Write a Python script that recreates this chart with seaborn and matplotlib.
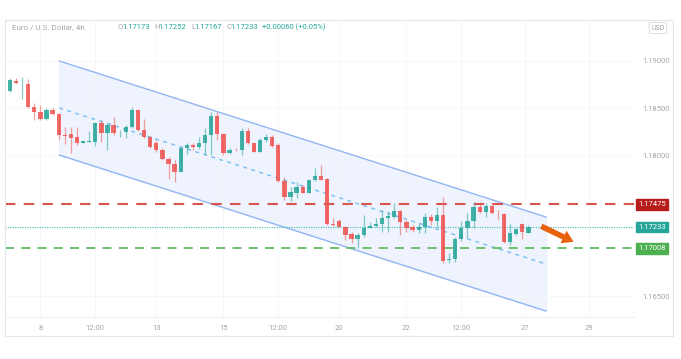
import numpy as np
import pandas as pd
import matplotlib
matplotlib.use("Agg")
import matplotlib.pyplot as plt
from matplotlib import transforms
from matplotlib.patches import Rectangle
import seaborn as sns

# EUR/USD 4h candles
opens = [1.18684, 1.18790, 1.18755, 1.18755, 1.18507, 1.18457, 1.18386, 1.18479, 1.18436, 1.18210,
         1.18220, 1.18191, 1.18128, 1.18141, 1.18141, 1.18337, 1.18231, 1.18316, 1.18235, 1.18241,
         1.18301, 1.18479, 1.18266, 1.18188, 1.18131, 1.18053, 1.17954, 1.17901, 1.17822, 1.18078,
         1.18106, 1.18088, 1.18131, 1.18213, 1.18418, 1.18220, 1.18024, 1.18053, 1.18053, 1.18259,
         1.18124, 1.18035, 1.18160, 1.18195, 1.18106, 1.17727, 1.17553, 1.17599, 1.17656, 1.17599,
         1.17734, 1.17777, 1.17742, 1.17263, 1.17301, 1.17237, 1.17160, 1.17103, 1.17149, 1.17227,
         1.17248, 1.17263, 1.17327, 1.17344, 1.17404, 1.17290, 1.17231, 1.17202, 1.17231, 1.17344,
         1.17301, 1.17362, 1.16883, 1.16894, 1.17103, 1.17220, 1.17298, 1.17450, 1.17390, 1.17461,
         1.17372, 1.17369, 1.17071, 1.17160, 1.17263, 1.17173]
highs = [1.18816, 1.18816, 1.18827, 1.18805, 1.18550, 1.18532, 1.18497, 1.18497, 1.18450, 1.18295,
         1.18301, 1.18295, 1.18160, 1.18255, 1.18354, 1.18372, 1.18344, 1.18401, 1.18266, 1.18319,
         1.18514, 1.18486, 1.18383, 1.18202, 1.18160, 1.18078, 1.17976, 1.17947, 1.18078, 1.18131,
         1.18124, 1.18188, 1.18284, 1.18454, 1.18454, 1.18231, 1.18071, 1.18071, 1.18284, 1.18284,
         1.18131, 1.18178, 1.18223, 1.18213, 1.18131, 1.17769, 1.17656, 1.17716, 1.17681, 1.17745,
         1.17859, 1.17894, 1.17752, 1.17327, 1.17316, 1.17245, 1.17181, 1.17170, 1.17362, 1.17290,
         1.17327, 1.17415, 1.17404, 1.17486, 1.17415, 1.17309, 1.17255, 1.17273, 1.17380, 1.17369,
         1.17450, 1.17556, 1.16954, 1.17131, 1.17298, 1.17380, 1.17503, 1.17503, 1.17486, 1.17486,
         1.17415, 1.17380, 1.17263, 1.17227, 1.17273, 1.17252]
lows = [1.18673, 1.18755, 1.18596, 1.18497, 1.18372, 1.18372, 1.18372, 1.18430, 1.18160, 1.18117,
        1.18018, 1.18106, 1.18124, 1.18135, 1.18096, 1.18135, 1.18053, 1.18213, 1.18195, 1.18184,
        1.18284, 1.18255, 1.18178, 1.18078, 1.18035, 1.17947, 1.17745, 1.17710, 1.17822, 1.18011,
        1.18053, 1.18060, 1.18000, 1.18000, 1.18160, 1.18000, 1.18011, 1.18046, 1.18000, 1.18114,
        1.18028, 1.18028, 1.18141, 1.18085, 1.17716, 1.17521, 1.17514, 1.17539, 1.17592, 1.17592,
        1.17723, 1.17730, 1.17255, 1.17245, 1.17231, 1.17096, 1.17061, 1.17007, 1.17131, 1.17220,
        1.17237, 1.17184, 1.17184, 1.17327, 1.17149, 1.17184, 1.17184, 1.17167, 1.17167, 1.17255,
        1.17237, 1.16848, 1.16848, 1.16865, 1.17085, 1.17114, 1.17220, 1.17380, 1.17344, 1.17369,
        1.17309, 1.17061, 1.17043, 1.17149, 1.17106, 1.17167]
closes = [1.18798, 1.18763, 1.18759, 1.18507, 1.18457, 1.18386, 1.18479, 1.18436, 1.18213, 1.18205,
          1.18184, 1.18128, 1.18146, 1.18146, 1.18337, 1.18231, 1.18316, 1.18237, 1.18239, 1.18295,
          1.18479, 1.18266, 1.18188, 1.18088, 1.18053, 1.17954, 1.17901, 1.17822, 1.18078, 1.18106,
          1.18088, 1.18131, 1.18213, 1.18418, 1.18220, 1.18024, 1.18053, 1.18050, 1.18259, 1.18124,
          1.18035, 1.18160, 1.18188, 1.18099, 1.17727, 1.17553, 1.17603, 1.17656, 1.17599, 1.17734,
          1.17780, 1.17734, 1.17263, 1.17260, 1.17237, 1.17149, 1.17103, 1.17149, 1.17220, 1.17248,
          1.17266, 1.17327, 1.17351, 1.17404, 1.17290, 1.17227, 1.17202, 1.17231, 1.17344, 1.17301,
          1.17362, 1.16872, 1.16890, 1.17103, 1.17220, 1.17298, 1.17450, 1.17390, 1.17461, 1.17380,
          1.17369, 1.17071, 1.17167, 1.17210, 1.17178, 1.17233]

# x axis date labels (candle index where each label sits)
tick_pos = [5, 14, 24, 35, 44, 54, 65, 74, 84.5, 95]
tick_labels = ["8", "12:00", "13", "15", "12:00", "20", "22", "12:00", "27", "29"]
price_ticks = [1.165, 1.18, 1.185, 1.19]

# descending channel drawn on the chart
channel_x = [8.1, 87.9]
channel_upper = [1.19000, 1.17340]
channel_lower = [1.18000, 1.16340]

resistance = 1.17475
support = 1.17008
last_close = 1.17233

# forecast arrow (start -> end)
arrow_x = [86.7, 92.8]
arrow_y = [1.17255, 1.17064]

df = pd.DataFrame({"open": opens, "high": highs, "low": lows, "close": closes})
df["idx"] = np.arange(len(df))
df["up"] = df["close"] >= df["open"]

sns.set_theme(style="white")
plt.rcParams["font.family"] = ["Roboto", "DejaVu Sans"]

W, H = 681, 359
fig = plt.figure(figsize=(W / 100, H / 100), dpi=100)
ax = fig.add_axes([5 / W, (H - 317) / H, 629 / W, 297 / H])

green = "#26a69a"
red = "#ef5350"
gray = "#a3a6ad"

# channel
ax.fill_between(channel_x, channel_lower, channel_upper, color="#eef3fd", zorder=0)
sns.lineplot(x=channel_x, y=channel_upper, ax=ax, color="#93b6f2", lw=1.0, zorder=1)
sns.lineplot(x=channel_x, y=channel_lower, ax=ax, color="#93b6f2", lw=1.0, zorder=1)
mid = [(a + b) / 2 for a, b in zip(channel_upper, channel_lower)]
ax.plot(channel_x, mid, color="#7fc0f2", lw=1.1, ls=(0, (2.5, 3)), zorder=1)

# horizontal levels
ax.axhline(resistance, color="#d9534f", lw=1.5, ls=(0, (5, 4)), zorder=2)
ax.axhline(support, color="#62bb62", lw=1.3, ls=(0, (5, 4)), zorder=2)
ax.axhline(last_close, color="#3fbfb2", lw=0.8, ls=(0, (1, 1.2)), zorder=2)

# candles
cols = np.where(df["up"], green, red)
ax.vlines(df["idx"], df["low"], df["high"], colors=cols, lw=0.9, alpha=0.55, zorder=3)
body_h = (df["close"] - df["open"]).abs().clip(lower=0.00004)
body_b = df[["open", "close"]].min(axis=1)
ax.bar(df["idx"], body_h, bottom=body_b, width=0.7, color=cols, alpha=0.85, lw=0, zorder=4)

# arrow
ax.annotate("", xy=(arrow_x[1], arrow_y[1]), xytext=(arrow_x[0], arrow_y[0]),
            arrowprops=dict(arrowstyle="simple,head_width=1.0,head_length=0.8,tail_width=0.4",
                            color="#e8610e", mutation_scale=10, lw=0), zorder=5)

ax.set_xlim(-0.8, 102.3)
ax.set_ylim(1.16277, 1.19436)

ax.set_xticks(tick_pos)
ax.set_xticklabels(tick_labels)
ax.yaxis.tick_right()
ax.set_yticks(price_ticks)
ax.set_yticklabels([f"{p:.5f}" for p in price_ticks])
ax.tick_params(axis="x", length=0, pad=6, labelsize=5.5, labelcolor=gray)
ax.tick_params(axis="y", length=0, pad=6, labelsize=5.5, labelcolor=gray)
ax.grid(True, color="#f5f6f8", lw=0.7)
ax.set_axisbelow(True)
for side in ["left", "top", "right"]:
    ax.spines[side].set_visible(False)
ax.spines["bottom"].set_color("#eef0f3")
ax.spines["bottom"].set_linewidth(0.8)

# price level tags on the scale
trans = transforms.blended_transform_factory(ax.transAxes, ax.transData)
for price, col in [(resistance, "#b71c1c"), (last_close, green), (support, "#4caf50")]:
    ax.text(1.007, price, f"{price:.5f}", transform=trans, ha="left", va="center",
            fontsize=5.5, color="white",
            bbox=dict(boxstyle="square,pad=0.3", fc=col, ec=col))

# outer frame
fig.patches.append(Rectangle((5 / W, (H - 336) / H), 668 / W, 316 / H, transform=fig.transFigure,
                             fill=False, ec="#e3e5ea", lw=0.8))

# header
hy = (H - 27) / H
fig.text(12 / W, hy, "Euro / U.S. Dollar, 4h", fontsize=5.8, color=gray, va="center")
parts = [(118, "O", gray), (122.5, "1.17173", green), (154.5, "H", gray),
         (158.8, "1.17252", green), (191.5, "L", gray), (194.5, "1.17167", green),
         (226.5, "C", gray), (230.3, "1.17233", green), (262.3, "+0.00060 (+0.05%)", green)]
for x, s, c in parts:
    fig.text(x / W, hy, s, fontsize=5.5, color=c, va="center")
fig.text(658 / W, (H - 28) / H, "USD", fontsize=5, color=gray, ha="center", va="center",
         bbox=dict(boxstyle="round,pad=0.3,rounding_size=0.3", fc="white", ec="#d6d8de", lw=0.6))

fig.savefig("out.png", dpi=100)
